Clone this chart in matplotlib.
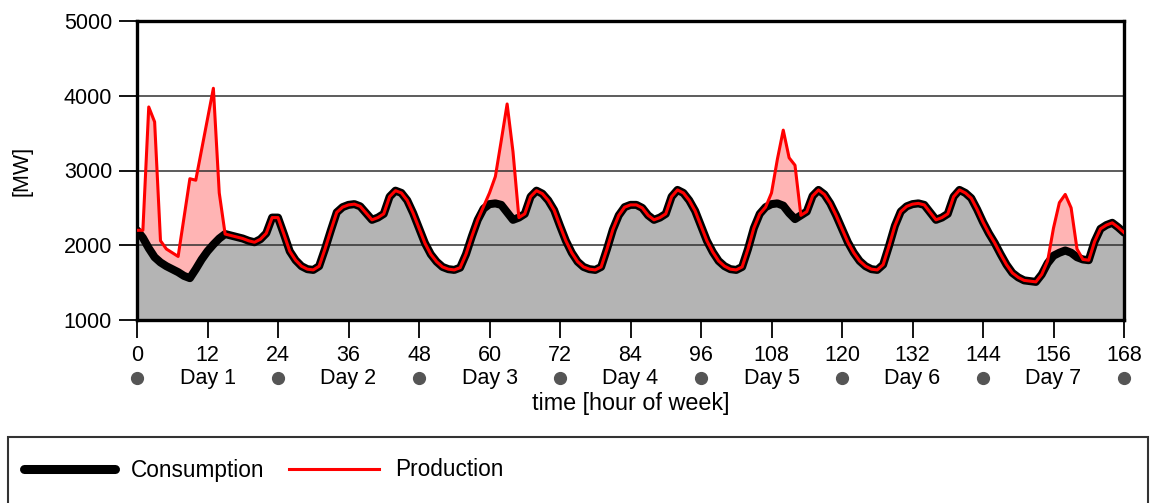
import numpy as np
import matplotlib
matplotlib.use("Agg")
from matplotlib import pyplot as plt
from matplotlib.lines import Line2D
from matplotlib.patches import Rectangle
import matplotlib.transforms as mtransforms

plt.rcParams['font.family'] = ['Liberation Sans', 'DejaVu Sans']
plt.rcParams['font.size'] = 15.5

# hour of week 0..168
hours = np.arange(0, 169)

consumption = [
    2200, 2100, 1960, 1840, 1770, 1720, 1680, 1640, 1590, 1560, 1680, 1810,
    1920, 2010, 2090, 2150, 2130, 2110, 2090, 2060, 2040, 2080, 2160, 2370,
    2370, 2150, 1920, 1800, 1720, 1680, 1670, 1720, 1950, 2200, 2440, 2510,
    2540, 2550, 2520, 2430, 2340, 2370, 2420, 2650, 2730, 2700, 2600, 2430,
    2230, 2030, 1880, 1780, 1710, 1680, 1670, 1700, 1880, 2120, 2340, 2490,
    2550, 2560, 2540, 2440, 2340, 2370, 2420, 2650, 2730, 2690, 2600, 2470,
    2260, 2060, 1900, 1780, 1710, 1680, 1670, 1710, 1950, 2210, 2400, 2510,
    2540, 2540, 2500, 2400, 2340, 2370, 2420, 2650, 2740, 2700, 2600, 2460,
    2260, 2060, 1910, 1790, 1720, 1680, 1670, 1710, 1950, 2230, 2420, 2510,
    2550, 2560, 2530, 2430, 2350, 2400, 2450, 2660, 2740, 2680, 2560, 2400,
    2220, 2040, 1900, 1790, 1720, 1680, 1670, 1740, 1990, 2260, 2450, 2520,
    2550, 2560, 2540, 2440, 2340, 2370, 2420, 2650, 2740, 2700, 2630, 2480,
    2310, 2160, 2030, 1880, 1740, 1630, 1570, 1530, 1520, 1510, 1610, 1760,
    1860, 1900, 1930, 1900, 1840, 1810, 1800, 2050, 2220, 2270, 2300, 2240,
    2170,
]

production = [
    2200, 2200, 3850, 3650, 2060, 1950, 1900, 1850, 2370, 2890, 2870, 3280,
    3690, 4100, 2700, 2150, 2130, 2110, 2090, 2060, 2040, 2080, 2160, 2370,
    2370, 2150, 1920, 1800, 1720, 1680, 1670, 1720, 1950, 2200, 2440, 2510,
    2540, 2550, 2520, 2430, 2340, 2370, 2420, 2650, 2730, 2700, 2600, 2430,
    2230, 2030, 1880, 1780, 1710, 1680, 1670, 1700, 1880, 2120, 2340, 2520,
    2700, 2920, 3400, 3890, 3250, 2370, 2420, 2650, 2730, 2690, 2600, 2470,
    2260, 2060, 1900, 1780, 1710, 1680, 1670, 1710, 1950, 2210, 2400, 2510,
    2540, 2540, 2500, 2400, 2340, 2370, 2420, 2650, 2740, 2700, 2600, 2460,
    2260, 2060, 1910, 1790, 1720, 1680, 1670, 1710, 1950, 2230, 2420, 2510,
    2700, 3150, 3540, 3170, 3070, 2400, 2450, 2660, 2740, 2680, 2560, 2400,
    2220, 2040, 1900, 1790, 1720, 1680, 1670, 1740, 1990, 2260, 2450, 2520,
    2550, 2560, 2540, 2440, 2340, 2370, 2420, 2650, 2740, 2700, 2630, 2480,
    2310, 2160, 2030, 1880, 1740, 1630, 1570, 1530, 1520, 1510, 1610, 1790,
    2230, 2570, 2680, 2500, 1950, 1810, 1800, 2050, 2220, 2270, 2300, 2240,
    2170,
]

hour_ticks = list(range(0, 169, 12))
day_bounds = list(range(0, 169, 24))
day_centers = [12, 36, 60, 84, 108, 132, 156]
day_labels = ["Day 1", "Day 2", "Day 3", "Day 4", "Day 5", "Day 6", "Day 7"]
y_ticks = [1000, 2000, 3000, 4000, 5000]

cons = np.array(consumption)
prod = np.array(production)

fig = plt.figure(figsize=(11.52, 5.03), dpi=100)
ax = fig.add_axes([137 / 1152, 1 - 320 / 503, 987 / 1152, 299 / 503])

ax.fill_between(hours, 1000, cons, color='#b4b4b4', lw=0, zorder=1)
ax.fill_between(hours, cons, prod, where=prod > cons, interpolate=True,
                color='#ffb4b4', lw=0, zorder=1.2)
for g in [2000, 3000, 4000]:
    ax.axhline(g, color='#303030', lw=1.1, zorder=1.5)
ax.plot(hours, cons, color='black', lw=5.8, solid_joinstyle='round',
        solid_capstyle='round', zorder=3)
ax.plot(hours, prod, color='#ff0000', lw=2.2, zorder=4)

ax.set_xlim(0, 168)
ax.set_ylim(1000, 5000)
ax.set_xticks(hour_ticks)
ax.set_yticks(y_ticks)
ax.tick_params(axis='both', length=13, width=1.3, pad=5, colors='black')
for s in ax.spines.values():
    s.set_linewidth(2.4)

# day markers row below the hour ticks
trans = mtransforms.blended_transform_factory(ax.transData, ax.transAxes)
ax.plot(day_bounds, [-0.194] * len(day_bounds), 'o', color='#555555',
        markersize=8.5, clip_on=False, transform=trans)
for x, lab in zip(day_centers, day_labels):
    ax.text(x, -0.194, lab, transform=trans, ha='center', va='center')

ax.set_xlabel("time [hour of week]", fontsize=16.8)
ax.xaxis.set_label_coords(0.5, -0.278)
ax.xaxis.label.set_va('center')
ax.set_ylabel("[MW]")
ax.yaxis.set_label_coords(-0.1165, 0.5)
ax.yaxis.label.set_va('center')

# legend box
fig.add_artist(Rectangle((8 / 1152, -0.01), 1140 / 1152, 0.131 + 0.01,
                         transform=fig.transFigure, fill=False,
                         edgecolor='#333333', lw=1.5))
handles = [Line2D([], [], color='black', lw=6.5, solid_capstyle='round'),
           Line2D([], [], color='#ff0000', lw=2.2)]
fig.legend(handles, ["Consumption", "Production"], loc='center left',
           bbox_to_anchor=(24 / 1152, 1 - 470 / 503), ncol=2, frameon=False,
           borderpad=0, borderaxespad=0, handlelength=4.0, handletextpad=0.7,
           columnspacing=1.1, prop={'size': 16.3})

fig.savefig("out.png", dpi=100)
